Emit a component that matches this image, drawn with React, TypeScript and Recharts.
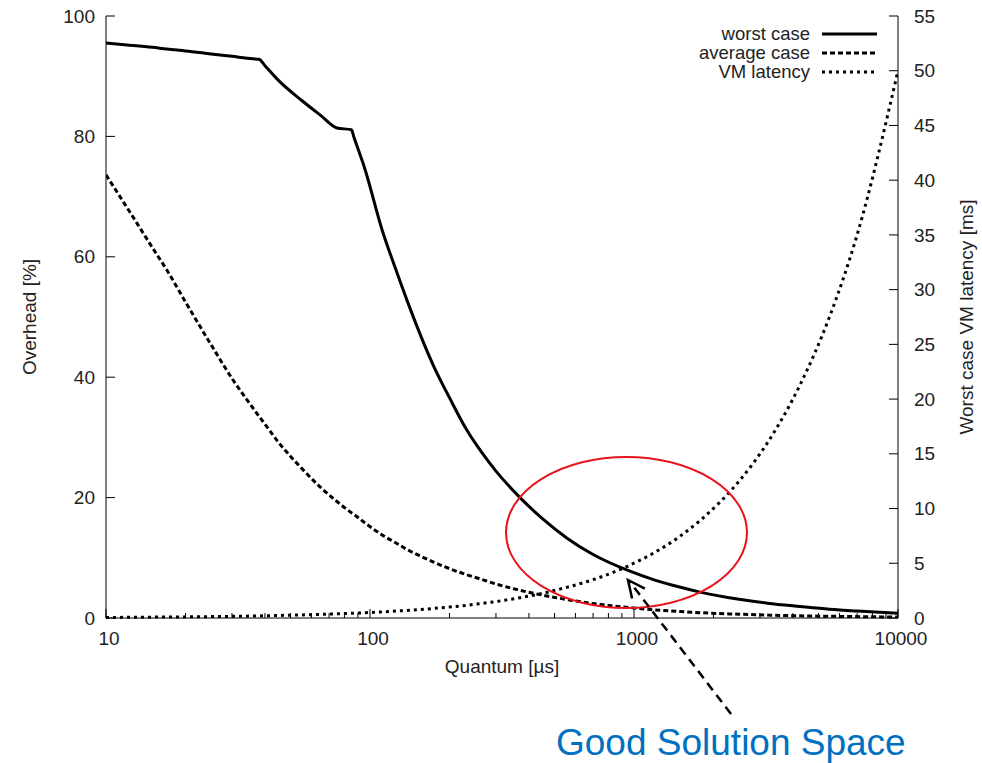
import { LineChart, Line, XAxis, YAxis, Legend, Label } from 'recharts'

// quantum in µs
const quantum = [10, 12, 15, 17, 20, 25, 30, 36, 38, 40, 45, 55, 65, 75, 85, 87, 95, 112, 125, 138, 174, 200, 232, 265, 300, 370, 450, 556, 700, 949, 1200, 1500, 1778, 2500, 3200, 4256, 5500, 7000, 10000]
// overhead [%]
const worstCase = [95.5, 95.2, 94.8, 94.5, 94.2, 93.7, 93.3, 92.9, 92.8, 91.75, 89.3, 86.0, 83.5, 81.4, 81.1, 79.8, 75.0, 64.0, 58.0, 52.8, 41.9, 36.6, 31.3, 27.5, 24.4, 20.0, 16.5, 13.3, 10.55, 7.9, 6.3, 5.1, 4.3, 3.1, 2.45, 1.9, 1.45, 1.15, 0.8]
const averageCase = [73.6, 68.2, 61.5, 57.8, 52.5, 45.4, 39.8, 34.9, 33.5, 32.2, 29.2, 24.9, 21.7, 19.35, 17.5, 17.2, 15.9, 13.7, 12.5, 11.4, 9.3, 8.2, 7.2, 6.4, 5.65, 4.6, 3.8, 3.07, 2.41, 1.74, 1.34, 1.06, 0.88, 0.63, 0.49, 0.36, 0.29, 0.23, 0.16]
// worst case VM latency [ms]
const vmLatency = [0.05, 0.06, 0.08, 0.09, 0.1, 0.13, 0.15, 0.18, 0.19, 0.2, 0.23, 0.28, 0.33, 0.38, 0.43, 0.44, 0.48, 0.56, 0.63, 0.69, 0.87, 1.0, 1.16, 1.33, 1.5, 1.85, 2.25, 2.8, 3.5, 4.75, 6.0, 7.5, 8.9, 12.5, 16.0, 21.3, 27.5, 35.0, 50.0]

const xTicks = [10, 20, 30, 40, 50, 60, 70, 80, 90, 100, 200, 300, 400, 500, 600, 700, 800, 900, 1000, 2000, 3000, 4000, 5000, 6000, 7000, 8000, 9000, 10000]
const xMajor = [10, 100, 1000, 10000]
const leftTicks = [0, 20, 40, 60, 80, 100]
const rightTicks = [0, 5, 10, 15, 20, 25, 30, 35, 40, 45, 50, 55]

const data = quantum.map((q, i) => ({
  q,
  worst: worstCase[i],
  average: averageCase[i],
  latency: vmLatency[i],
}))

const series = [
  { key: 'worst', name: 'worst case', axis: 'left', dash: undefined as string | undefined },
  { key: 'average', name: 'average case', axis: 'left', dash: '5 3' },
  { key: 'latency', name: 'VM latency', axis: 'right', dash: '3 4' },
]

const FONT = '"Liberation Sans", Arial, sans-serif'
const TXT = '#222'
const FS = 19

function BottomTick({ x, y, payload }: any) {
  const major = xMajor.includes(payload.value)
  return (
    <g>
      <line x1={x} y1={y} x2={x} y2={y - (major ? 9 : 5)} stroke="#000" />
      {major && (
        <text x={x + 3} y={y + 27} textAnchor="middle" fontSize={FS} fill={TXT} fontFamily={FONT}>
          {payload.value}
        </text>
      )}
    </g>
  )
}

function TopTick({ x, y, payload }: any) {
  const major = xMajor.includes(payload.value)
  return <line x1={x} y1={y} x2={x} y2={y + (major ? 9 : 5)} stroke="#000" />
}

function LeftTick({ x, y, payload }: any) {
  return (
    <g>
      <line x1={x} y1={y} x2={x + 9} y2={y} stroke="#000" />
      <text x={x - 11} y={y} dy="0.35em" textAnchor="end" fontSize={FS} fill={TXT} fontFamily={FONT}>
        {payload.value}
      </text>
    </g>
  )
}

function RightTick({ x, y, payload }: any) {
  return (
    <g>
      <line x1={x} y1={y} x2={x - 9} y2={y} stroke="#000" />
      <text x={x + 16} y={y} dy="0.35em" textAnchor="start" fontSize={FS} fill={TXT} fontFamily={FONT}>
        {payload.value}
      </text>
    </g>
  )
}

function KeyBox({ payload }: any) {
  const items = series.filter((s) => (payload || []).some((p: any) => p.dataKey === s.key))
  return (
    <svg width={300} height={62} style={{ display: 'block' }}>
      {items.map((s, i) => {
        const cy = 12 + i * 19
        return (
          <g key={s.key}>
            <text x={210} y={cy} dy="0.35em" textAnchor="end" fontSize={18.5} fill={TXT} fontFamily={FONT}>
              {s.name}
            </text>
            <line x1={222} y1={cy} x2={277} y2={cy} stroke="#000" strokeWidth={3} strokeDasharray={s.dash} />
          </g>
        )
      })}
    </svg>
  )
}

export default function App() {
  return (
    <div style={{ position: 'absolute', left: 0, top: 0, width: 982, height: 763, background: '#fff', fontFamily: FONT }}>
      <LineChart width={982} height={763} data={data} margin={{ top: 16, right: 0, bottom: 0, left: 0 }}>
        <XAxis
          dataKey="q"
          type="number"
          scale="log"
          domain={[10, 10000]}
          ticks={xTicks}
          interval={0}
          height={145}
          tickSize={0}
          tickMargin={0}
          tick={<BottomTick />}
          axisLine={{ stroke: '#000' }}
          allowDataOverflow
        >
          <Label
            content={({ viewBox }: any) => (
              <text x={viewBox.x + viewBox.width / 2} y={viewBox.y + 55} textAnchor="middle" fontSize={FS} fill={TXT} fontFamily={FONT}>
                Quantum [µs]
              </text>
            )}
          />
        </XAxis>
        <XAxis
          xAxisId="top"
          orientation="top"
          dataKey="q"
          type="number"
          scale="log"
          domain={[10, 10000]}
          ticks={xTicks}
          interval={0}
          height={0}
          tickSize={0}
          tickMargin={0}
          tick={<TopTick />}
          axisLine={{ stroke: '#000' }}
          allowDataOverflow
        />
        <YAxis
          yAxisId="left"
          domain={[0, 100]}
          ticks={leftTicks}
          interval={0}
          width={106}
          tickSize={0}
          tickMargin={0}
          tick={<LeftTick />}
          axisLine={{ stroke: '#000' }}
        >
          <Label
            content={({ viewBox }: any) => {
              const cx = viewBox.x + 29
              const cy = viewBox.y + viewBox.height / 2
              return (
                <text x={cx} y={cy} transform={`rotate(-90 ${cx} ${cy})`} textAnchor="middle" dy="0.35em" fontSize={FS} fill={TXT} fontFamily={FONT}>
                  Overhead [%]
                </text>
              )
            }}
          />
        </YAxis>
        <YAxis
          yAxisId="right"
          orientation="right"
          domain={[0, 55]}
          ticks={rightTicks}
          interval={0}
          width={84}
          tickSize={0}
          tickMargin={0}
          tick={<RightTick />}
          axisLine={{ stroke: '#000' }}
        >
          <Label
            content={({ viewBox }: any) => {
              const cx = viewBox.x + 68
              const cy = viewBox.y + viewBox.height / 2
              return (
                <text x={cx} y={cy} transform={`rotate(-90 ${cx} ${cy})`} textAnchor="middle" dy="0.35em" fontSize={FS} fill={TXT} fontFamily={FONT}>
                  Worst case VM latency [ms]
                </text>
              )
            }}
          />
        </YAxis>
        <Legend
          layout="vertical"
          align="center"
          verticalAlign="middle"
          content={<KeyBox />}
          wrapperStyle={{ left: 600, top: 22, width: 300, height: 62 }}
        />
        {series.map((s) => (
          <Line
            key={s.key}
            yAxisId={s.axis}
            dataKey={s.key}
            name={s.name}
            type="monotone"
            stroke="#000"
            strokeWidth={3}
            strokeDasharray={s.dash}
            dot={false}
            activeDot={false}
            isAnimationActive={false}
          />
        ))}
      </LineChart>
      <svg width={982} height={763} style={{ position: 'absolute', left: 0, top: 0, pointerEvents: 'none' }}>
        <ellipse cx={626.5} cy={532.5} rx={120.5} ry={75.5} fill="none" stroke="#e8141b" strokeWidth={2} />
        <line x1={731} y1={714} x2={630} y2={582} stroke="#000" strokeWidth={2.5} strokeDasharray="9 6" />
        <polyline points="632.1,598.5 628,580 644.9,588.7" fill="none" stroke="#000" strokeWidth={2.5} />
        <text x={556} y={755} fontSize={37} fill="#0070C0" fontFamily={FONT}>
          Good Solution Space
        </text>
      </svg>
    </div>
  )
}
